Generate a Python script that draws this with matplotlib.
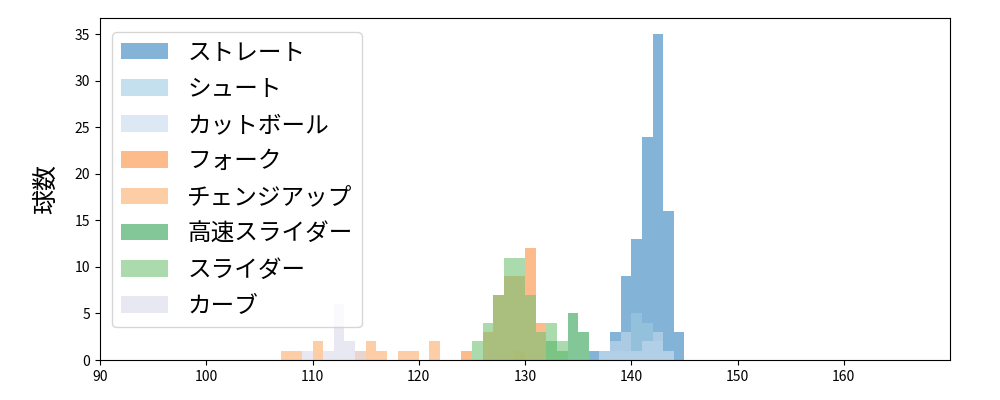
import numpy as np
import matplotlib.pyplot as plt

plt.rcParams['font.family'] = ['Noto Sans CJK JP', 'DejaVu Sans']

# pitch types (draw order) and colours
pitch_names = ['ストレート', 'シュート', 'カットボール', 'フォーク', 'チェンジアップ',
               '高速スライダー', 'スライダー', 'カーブ']
pitch_colors = ['#3182bd', '#9ecae1', '#c6dbef', '#fd8d3c', '#fdae6b',
                '#31a354', '#74c476', '#dadaeb']

# speed bins (km/h, left edge) and counts per pitch type
straight_speed = [136, 137, 138, 139, 140, 141, 142, 143, 144]
straight_count = [1, 1, 3, 9, 13, 24, 35, 16, 3]

shoot_speed = [137, 138, 139, 140, 141, 142, 143]
shoot_count = [1, 1, 1, 5, 4, 2, 1]

cut_speed = [137, 138, 139, 140, 141, 142, 143]
cut_count = [1, 2, 3, 1, 2, 3, 1]

fork_speed = [124, 126, 127, 128, 129, 130, 131]
fork_count = [1, 3, 7, 9, 9, 12, 4]

change_speed = [107, 108, 110, 114, 115, 116, 118, 119, 121, 129]
change_count = [1, 1, 2, 1, 2, 1, 1, 1, 2, 1]

fast_slider_speed = [132, 133, 134, 135]
fast_slider_count = [2, 1, 5, 3]

slider_speed = [125, 126, 127, 128, 129, 130, 131, 132, 133]
slider_count = [2, 4, 7, 11, 11, 7, 3, 4, 2]

curve_speed = [109, 111, 112, 113, 114]
curve_count = [1, 1, 6, 2, 1]

speeds = [straight_speed, shoot_speed, cut_speed, fork_speed, change_speed,
          fast_slider_speed, slider_speed, curve_speed]
counts = [straight_count, shoot_count, cut_count, fork_count, change_count,
          fast_slider_count, slider_count, curve_count]

fig, ax = plt.subplots(figsize=(10, 4), dpi=100)
fig.subplots_adjust(left=0.1, right=0.95, top=0.955, bottom=0.1)

for name, color, s, c in zip(pitch_names, pitch_colors, speeds, counts):
    bins = np.arange(min(s), max(s) + 2)
    ax.hist(s, bins=bins, weights=c, color=color, alpha=0.6, label=name)

ax.set_xlim(90, 170)
ax.set_xticks(np.arange(90, 170, 10))
ax.set_ylim(0, 36.75)
ax.set_yticks(np.arange(0, 36, 5))
ax.set_ylabel('球数', fontsize=18, labelpad=11)
ax.legend(loc='upper left', bbox_to_anchor=(0, 0.994), fontsize=17,
          labelspacing=0.56)

fig.savefig('out.png')
